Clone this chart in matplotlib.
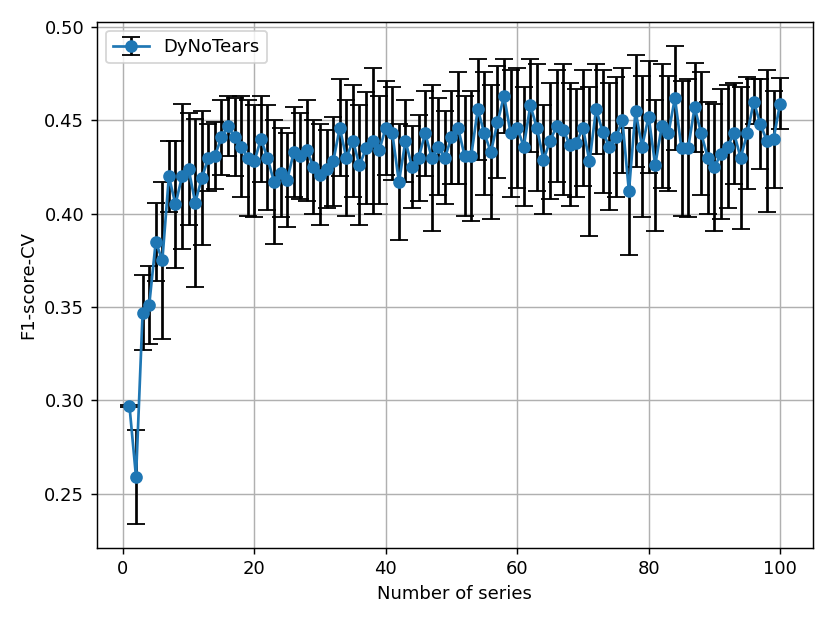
import numpy as np
import matplotlib.pyplot as plt

# number of series on the x axis
n_series = list(range(1, 101))

# mean F1 score (CV) per number of series
f1_mean = [
    0.297, 0.259, 0.347, 0.351, 0.385, 0.375, 0.420, 0.405, 0.420, 0.424,
    0.406, 0.419, 0.430, 0.431, 0.441, 0.447, 0.441, 0.436, 0.430, 0.428,
    0.440, 0.430, 0.417, 0.422, 0.418, 0.433, 0.431, 0.434, 0.425, 0.421,
    0.424, 0.428, 0.446, 0.430, 0.439, 0.426, 0.435, 0.439, 0.434, 0.446,
    0.443, 0.417, 0.439, 0.425, 0.430, 0.443, 0.430, 0.436, 0.430, 0.441,
    0.446, 0.431, 0.431, 0.456, 0.443, 0.433, 0.449, 0.463, 0.443, 0.446,
    0.436, 0.458, 0.446, 0.429, 0.439, 0.447, 0.445, 0.437, 0.438, 0.446,
    0.428, 0.456, 0.444, 0.436, 0.441, 0.450, 0.412, 0.455, 0.436, 0.452,
    0.426, 0.447, 0.443, 0.462, 0.435, 0.435, 0.457, 0.443, 0.430, 0.425,
    0.432, 0.436, 0.443, 0.430, 0.443, 0.460, 0.448, 0.439, 0.440, 0.459,
]

# standard deviation across folds
f1_std = [
    0.0005, 0.025, 0.020, 0.021, 0.021, 0.042, 0.019, 0.034, 0.039, 0.030,
    0.045, 0.036, 0.018, 0.018, 0.020, 0.016, 0.021, 0.027, 0.031, 0.030,
    0.023, 0.028, 0.033, 0.024, 0.025, 0.024, 0.023, 0.027, 0.025, 0.027,
    0.021, 0.024, 0.026, 0.031, 0.030, 0.032, 0.030, 0.039, 0.029, 0.025,
    0.025, 0.031, 0.022, 0.022, 0.023, 0.023, 0.039, 0.026, 0.025, 0.025,
    0.030, 0.032, 0.035, 0.027, 0.033, 0.036, 0.030, 0.020, 0.034, 0.032,
    0.032, 0.025, 0.034, 0.029, 0.031, 0.030, 0.035, 0.033, 0.029, 0.031,
    0.040, 0.024, 0.033, 0.034, 0.032, 0.028, 0.034, 0.030, 0.038, 0.030,
    0.035, 0.033, 0.031, 0.028, 0.036, 0.037, 0.024, 0.033, 0.030, 0.034,
    0.035, 0.033, 0.027, 0.038, 0.030, 0.012, 0.024, 0.038, 0.026, 0.0135,
]

fig, ax = plt.subplots(figsize=(6.4, 4.8), dpi=130)
fig.subplots_adjust(left=0.1165, right=0.9767, top=0.965, bottom=0.1225)
ax.errorbar(n_series, f1_mean, yerr=f1_std, fmt='-o', ecolor='black',
            capsize=5, label='DyNoTears')
ax.set_xlabel('Number of series')
ax.set_ylabel('F1-score-CV')
ax.grid(True)
ax.legend(loc='upper left')
fig.savefig('out.png')
